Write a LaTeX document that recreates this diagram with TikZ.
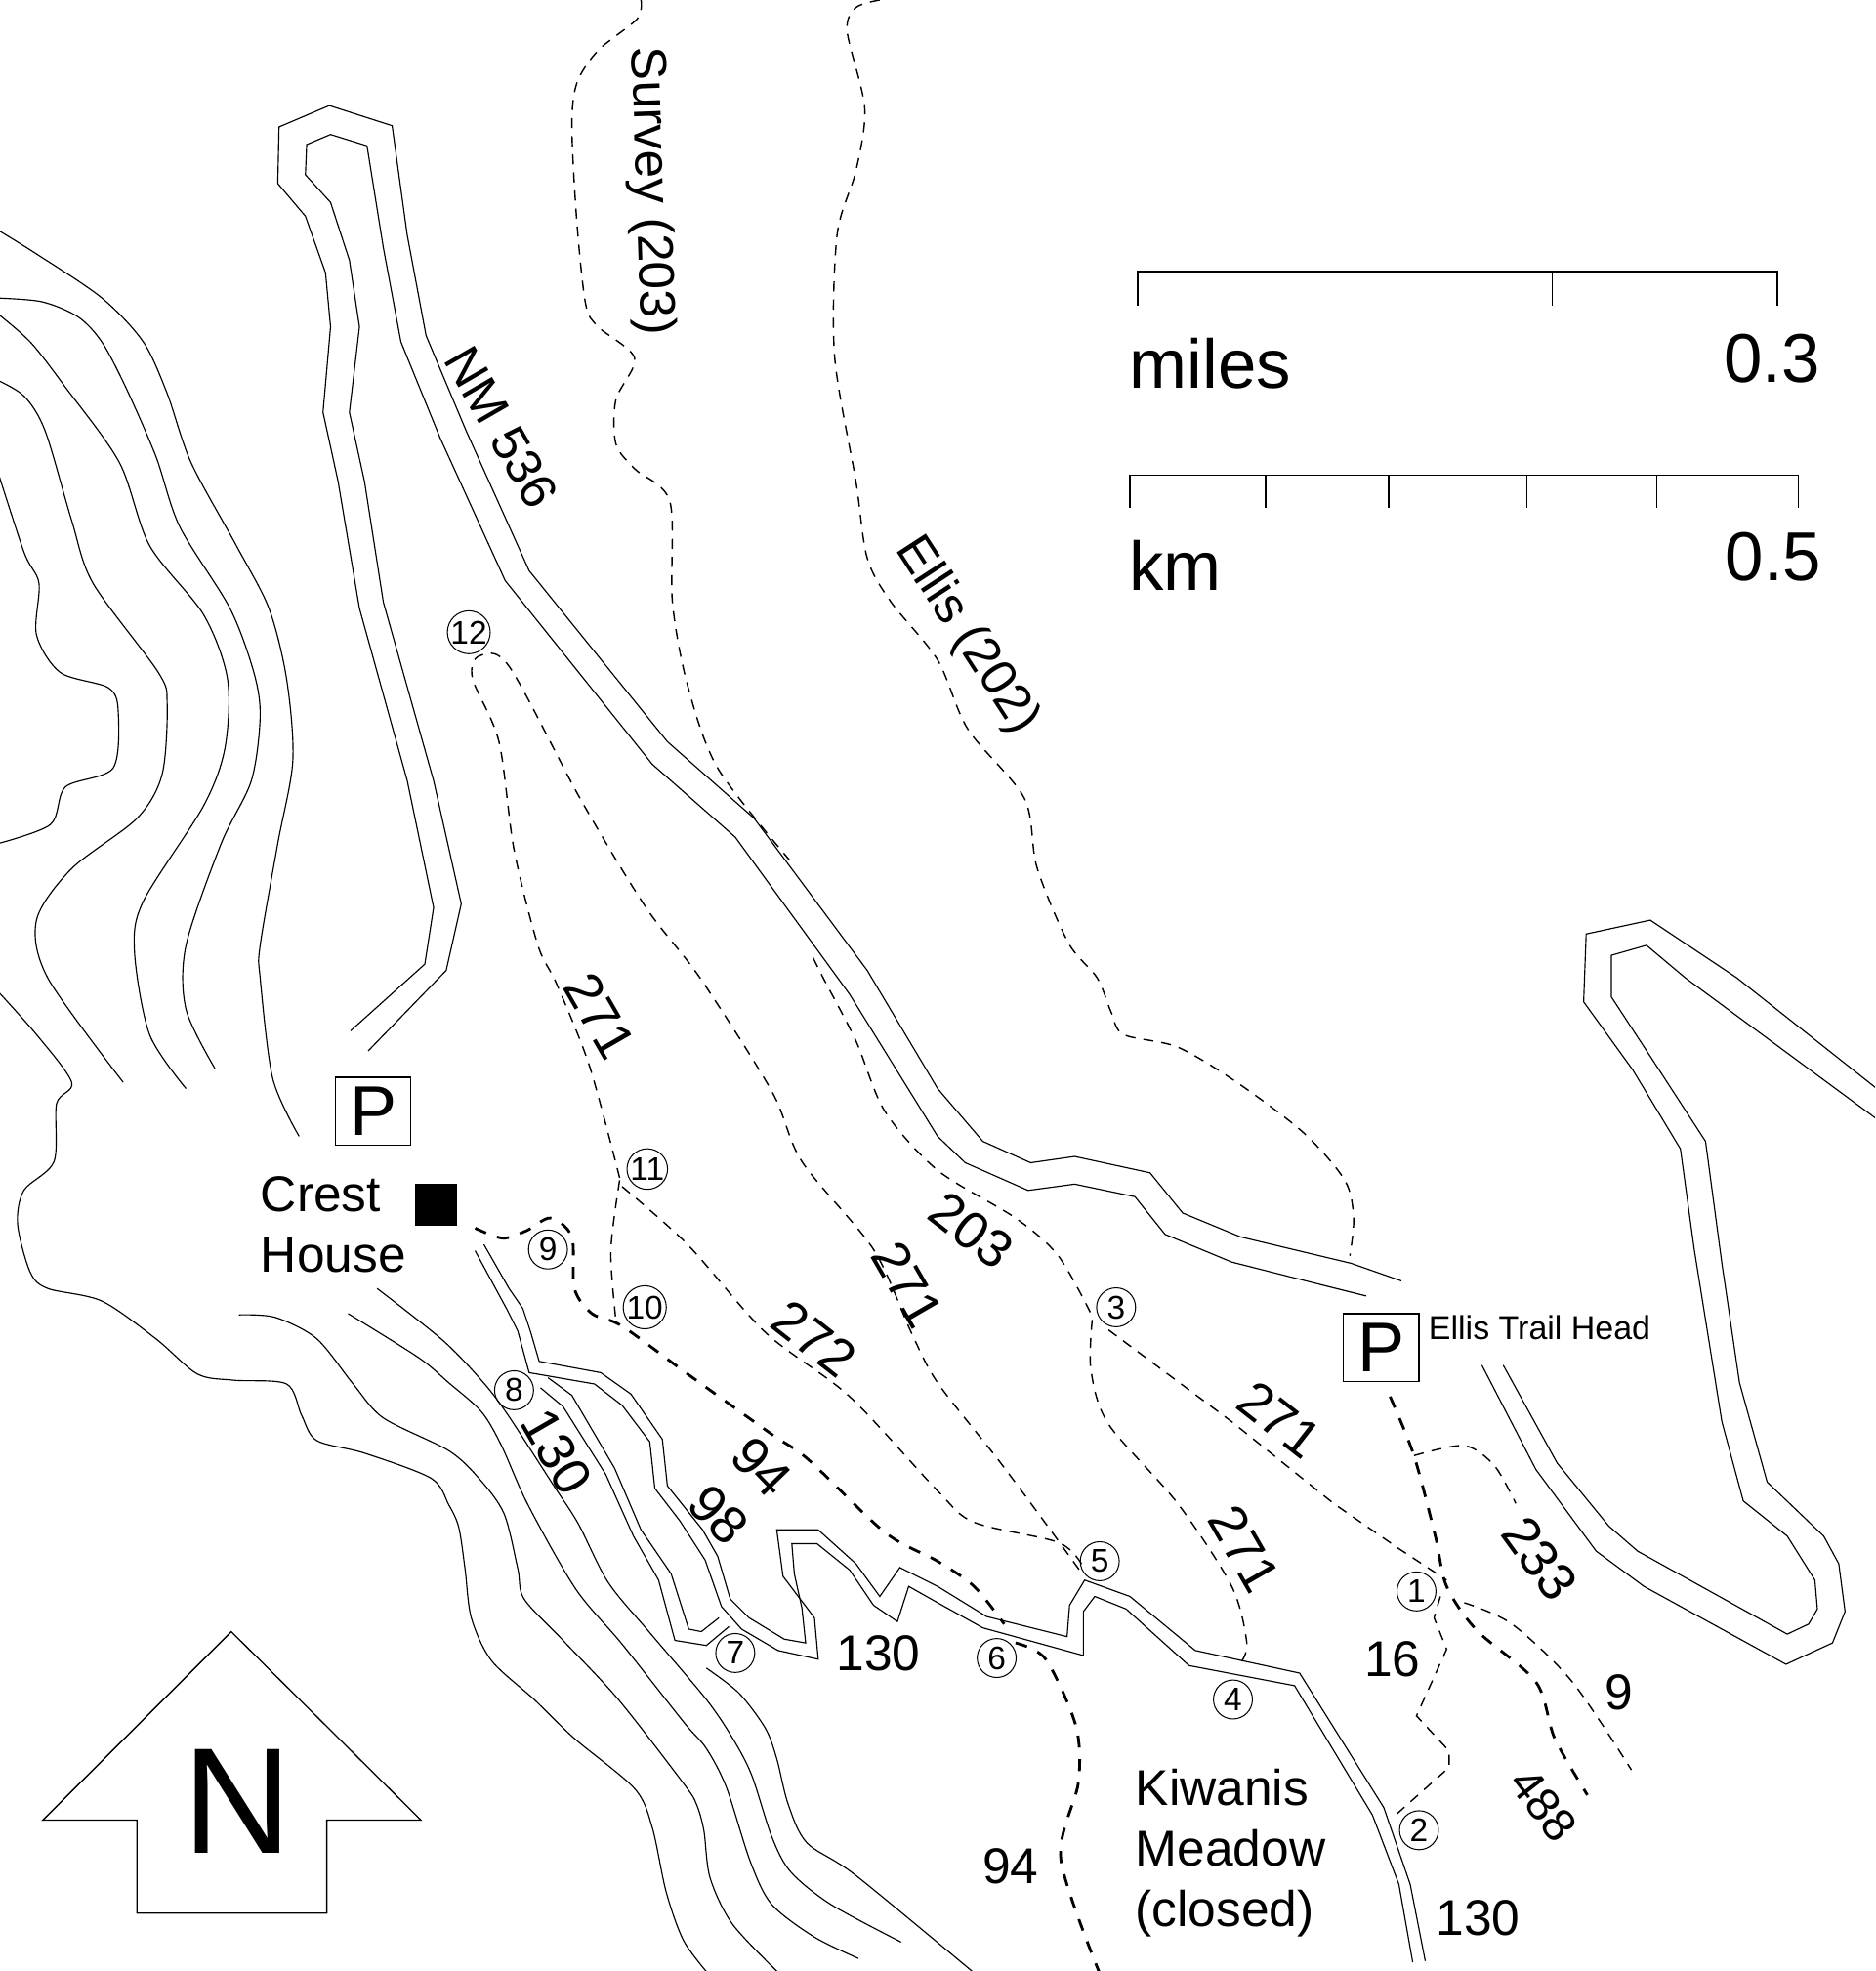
\documentclass[tikz,border=0pt]{standalone}
\usepackage{fontspec}
\setmainfont{Liberation Sans}
\tikzset{
	contour/.style={line width=0.45pt,line join=round},
	road/.style={line width=0.45pt,line join=miter},
	trail/.style={line width=0.55pt,dash pattern=on 4pt off 3.2pt},
	heavytrail/.style={line width=1.1pt,dash pattern=on 4.8pt off 4.6pt},
	stopmark/.style={circle,draw,line width=0.4pt,inner sep=0pt,minimum size=15.5pt,font=\fontsize{13}{13}\selectfont},
	maplabel/.style={inner sep=0pt,font=\fontsize{20}{24}\selectfont},
	pathlabel/.style={inner sep=0pt,font=\fontsize{21}{24}\selectfont},
	biglabel/.style={inner sep=0pt,font=\fontsize{27.5}{30}\selectfont},
	parking/.style={draw,line width=0.5pt,inner sep=0pt,minimum width=30pt,minimum height=27pt,font=\fontsize{28}{28}\selectfont}
}
\begin{document}
\begin{tikzpicture}[x=0.5pt,y=-0.5pt,>=stealth]
	\useasboundingbox (0,0) rectangle (1492,1568);
	\begin{scope}
		\clip (0,0) rectangle (1492,1568);
		% contours
		\draw[contour] plot[smooth] coordinates {(-5,181) (29,202) (81,237) (114,272) (133,313) (152,368) (188,434) (214,484) (228,540) (233,605) (221,671) (207,752) (207,778) (217,858) (238,904)};
		\draw[contour] plot[smooth] coordinates {(-5,237) (33,240) (62,252) (81,272) (100,308) (124,363) (143,419) (183,484) (202,535) (207,570) (200,621) (176,671) (148,752) (148,803) (171,850)};
		\draw[contour] plot[smooth] coordinates {(-5,247) (24,272) (52,308) (95,368) (119,434) (162,489) (181,540) (179,595) (162,641) (114,717) (107,757) (119,823) (148,866)};
		\draw[contour] plot[smooth] coordinates {(-5,301) (19,315) (36,343) (57,414) (74,464) (126,535) (133,560) (129,616) (109,651) (57,691) (29,732) (38,778) (98,861)};
		\draw[contour] plot[smooth] coordinates {(-5,365) (19,439) (31,464) (29,505) (48,535) (86,547) (94,565) (90,611) (52,626) (40,656) (-5,672)};
		\draw[contour] plot[smooth] coordinates {(-5,785) (29,823) (57,861) (45,878) (43,924) (19,947) (14,974) (24,1012) (38,1025) (81,1035) (124,1065) (157,1093) (186,1098) (228,1101) (240,1126) (252,1146) (290,1156) (343,1176) (357,1197) (365,1215) (370,1248) (375,1287) (391,1321) (425,1352) (457,1383) (505,1423) (519,1454) (530,1505) (544,1544) (565,1572)};
		\draw[contour] plot[smooth] coordinates {(190,1046) (219,1048) (252,1065) (281,1101) (305,1128) (357,1154) (381,1176) (401,1204) (412,1248) (417,1272) (448,1305) (492,1352) (544,1419) (554,1435) (560,1456) (565,1494) (583,1531) (622,1572)};
		\draw[contour] plot[smooth] coordinates {(300,1025) (352,1066) (383,1098) (403,1124) (440,1181) (460,1212) (484,1259) (518,1300) (562,1352) (583,1383) (598,1412) (614,1461) (629,1489) (661,1515) (717,1545)};
		\draw[contour] plot[smooth] coordinates {(277,1045) (333,1080) (357,1100) (383,1123) (399,1150) (420,1197) (458,1264) (495,1308) (544,1370) (562,1391) (578,1422) (597,1481) (614,1515) (648,1541) (683,1558)};
		\draw[contour] plot[smooth] coordinates {(562,1327) (588,1347) (609,1375) (618,1399) (627,1435) (642,1466) (681,1492) (778,1572)};
		% roads
		\draw[road] (279,820)--(338,767)--(345,722)--(324,621)--(286,484)--(269,383)--(257,328)--(263,260)--(259,217)--(243,172)--(221,146)--(222,101)--(262,84)--(312,100)--(324,187)--(339,267)--(371,343)--(421,454)--(531,590)--(600,651)--(690,772)--(746,866)--(782,908)--(820,925)--(855,920)--(915,933)--(941,965)--(987,984)--(1075,1005)--(1115,1019);
		\draw[road] (293,836)--(355,772)--(367,719)--(345,621)--(305,479)--(290,383)--(278,328)--(286,260)--(278,207)--(263,161)--(243,139)--(244,115)--(263,107)--(292,116)--(305,197)--(319,272)--(350,348)--(402,462)--(519,608)--(585,666)--(676,791)--(746,904)--(768,925)--(818,947)--(855,942)--(903,952)--(927,982)--(980,1004)--(1051,1022)--(1087,1031);
		\draw[road] (385,990)--(405,1025)--(416,1041)--(422,1059)--(429,1083)--(478,1092)--(502,1109)--(527,1145)--(531,1182)--(559,1217)--(571,1238)--(581,1272)--(596,1287)--(624,1304)--(641,1307)--(638,1279)--(632,1252)--(630,1228)--(650,1228)--(676,1249)--(695,1277)--(714,1290)--(723,1262)--(746,1275)--(782,1295)--(862,1317)--(862,1282)--(871,1270)--(896,1280)--(946,1325)--(1030,1341)--(1092,1444)--(1113,1499)--(1124,1561);
		\draw[road] (378,995)--(403,1041)--(412,1059)--(421,1092)--(473,1101)--(495,1118)--(517,1147)--(521,1184)--(541,1210)--(561,1241)--(574,1278)--(590,1296)--(619,1313)--(651,1320)--(648,1287)--(623,1254)--(618,1217)--(651,1217)--(681,1244)--(700,1270)--(716,1247)--(746,1262)--(785,1286)--(849,1302)--(851,1277)--(863,1257)--(899,1270)--(951,1313)--(1034,1331)--(1101,1438)--(1122,1499)--(1134,1560);
		\draw[road] (436,1096)--(455,1110)--(489,1168)--(510,1217)--(534,1252)--(548,1296)--(558,1298)--(572,1287);
		\draw[road] (430,1104)--(448,1119)--(482,1173)--(504,1222)--(524,1257)--(537,1305)--(562,1309)--(580,1294);
		\draw[road] (1497,869)--(1382,778)--(1313,732)--(1262,743)--(1260,797)--(1299,851)--(1337,914)--(1348,994)--(1370,1131)--(1387,1194)--(1422,1222)--(1444,1257)--(1446,1280)--(1439,1292)--(1422,1300)--(1303,1234)--(1280,1214)--(1239,1164)--(1196,1086);
		\draw[road] (1497,893)--(1341,778)--(1310,752)--(1282,760)--(1282,793)--(1318,848)--(1357,908)--(1370,1005)--(1384,1100)--(1406,1179)--(1451,1222)--(1463,1244)--(1468,1282)--(1458,1307)--(1421,1324)--(1308,1262)--(1270,1234)--(1222,1169)--(1179,1086);
		% trails
		\draw[trail] plot[smooth] coordinates {(510,0) (507,15) (476,40) (459,66) (455,101) (459,177) (466,242) (476,260) (505,285) (490,318) (490,353) (505,373) (533,399) (535,479) (547,545) (571,611) (628,684)};
		\draw[trail] plot[smooth] coordinates {(647,762) (655,778) (681,828) (704,884) (746,931) (808,969) (842,999) (868,1045)};
		\draw[trail] plot[smooth] coordinates {(700,0) (681,6) (674,25) (688,86) (681,136) (666,187) (664,283) (681,383) (690,444) (709,479) (746,525) (770,580) (815,635) (825,690) (850,750) (873,778) (884,805) (894,823) (937,833) (984,861) (1037,901) (1070,939) (1077,969) (1074,999)};
		\draw[trail] plot[smooth] coordinates {(493,937) (469,848) (443,783) (428,752) (409,676) (397,590) (376,540) (381,522) (405,530) (462,636) (514,722) (557,778) (614,868) (638,924) (695,994) (725,1060) (746,1100) (794,1161) (832,1212) (861,1252)};
		\draw[trail] plot[smooth] coordinates {(493,939) (486,995) (490,1050)};
		\draw[trail] plot[smooth] coordinates {(495,944) (547,990) (609,1060) (676,1111) (746,1186) (775,1211) (842,1227) (861,1245)};
		\draw[trail] plot[smooth] coordinates {(869,1050) (868,1090) (882,1133) (937,1196) (980,1262) (992,1307) (987,1323)};
		\draw[trail] (882,1058)--(980,1131)--(1061,1196)--(1113,1232)--(1151,1257);
		\draw[trail] plot[smooth] coordinates {(1125,1158) (1165,1150) (1189,1166) (1206,1196)};
		\draw[trail] plot[smooth] coordinates {(1165,1275) (1203,1292) (1251,1338) (1298,1408)};
		\draw[trail] (1146,1270)--(1141,1287)--(1151,1312)--(1127,1365)--(1153,1393)--(1153,1406)--(1108,1446);
		\draw[heavytrail] plot[smooth] coordinates {(1106,1111) (1125,1158) (1142,1222) (1151,1262) (1175,1297) (1222,1338) (1237,1383) (1263,1428)};
		\draw[heavytrail] plot[smooth] coordinates {(378,977) (400,985) (419,979) (438,969) (455,984) (457,1025) (471,1045) (495,1055) (547,1093) (614,1141) (643,1161) (704,1219) (746,1242) (775,1262) (799,1292)};
		\draw[heavytrail] plot[smooth] coordinates {(808,1307) (832,1320) (856,1373) (858,1418) (844,1479) (875,1570)};
	\end{scope}
	% scale bars
	\draw[line width=0.6pt] (905,243)--(905,216)--(1414,216)--(1414,243);
	\foreach \xa in {1078,1235} \draw[line width=0.6pt] (\xa,216)--(\xa,243);
	\draw[line width=0.6pt] (899,404)--(899,378)--(1431,378)--(1431,404);
	\foreach \xa in {1007,1105,1215,1318} \draw[line width=0.6pt] (\xa,378)--(\xa,404);
	\node[biglabel] (miles) at (963,289) {miles};
	\node[biglabel] (milesend) at (1410,285) {0.3};
	\node[biglabel] (km) at (935,450) {km};
	\node[biglabel] (kmend) at (1411,443) {0.5};
	% north arrow
	\draw[line width=0.5pt] (184,1298)--(335,1448)--(260,1448)--(260,1522)--(109,1522)--(109,1448)--(34,1448)--cycle;
	\node[inner sep=0pt,font=\fontsize{60}{60}\selectfont] (north) at (189,1433) {N};
	% stops
	\node[stopmark] (s1) at (1127,1266) {1};
	\node[stopmark] (s2) at (1129,1456) {2};
	\node[stopmark] (s3) at (888,1040) {3};
	\node[stopmark] (s4) at (981,1352) {4};
	\node[stopmark] (s5) at (875,1242) {5};
	\node[stopmark] (s6) at (793,1319) {6};
	\node[stopmark] (s7) at (585,1315) {7};
	\node[stopmark] (s8) at (409,1106) {8};
	\node[stopmark] (s9) at (436,994) {9};
	\node[stopmark] (s10) at (513,1040) {10};
	\node[stopmark] (s11) at (515,930) {11};
	\node[stopmark] (s12) at (373,503) {12};
	% places
	\node[parking] (crestpark) at (297,884) {P};
	\node[parking] (ellispark) at (1099,1072) {P};
	\fill (330,942) rectangle (364,975);
	\node[maplabel,align=left,anchor=west] (crest) at (207,974) {Crest\\House};
	\node[inner sep=0pt,font=\fontsize{13.2}{15}\selectfont] (ellishead) at (1225,1056) {Ellis Trail Head};
	\node[maplabel,align=left,anchor=west] (meadow) at (903,1474) {Kiwanis\\Meadow\\(closed)};
	% trail and road labels
	\node[maplabel,rotate=-88] (survey) at (517,152) {Survey (203)};
	\node[maplabel,rotate=-60] (nm) at (399,340) {NM 536};
	\node[maplabel,rotate=-57] (ellis) at (769,506) {Ellis (202)};
	\node[pathlabel,rotate=-60] (ta) at (477,808) {271};
	\node[pathlabel,rotate=-38] (tb) at (773,979) {203};
	\node[pathlabel,rotate=-60] (tc) at (722,1022) {271};
	\node[pathlabel,rotate=-38] (td) at (648,1065) {272};
	\node[pathlabel,rotate=-38] (te) at (1018,1129) {271};
	\node[pathlabel,rotate=-60] (tf) at (990,1232) {271};
	\node[pathlabel,rotate=-46] (tg) at (606,1167) {94};
	\node[pathlabel,rotate=-46] (th) at (572,1205) {98};
	\node[pathlabel,rotate=-60] (ti) at (443,1155) {130};
	\node[pathlabel,rotate=-54] (tj) at (1225,1240) {233};
	\node[maplabel,rotate=-52,font=\fontsize{18.5}{20}\selectfont] (tk) at (1228,1436) {488};
	\node[maplabel] (tl) at (699,1315) {130};
	\node[maplabel] (tm) at (1108,1320) {16};
	\node[maplabel] (tn) at (1288,1346) {9};
	\node[maplabel] (tp) at (804,1485) {94};
	\node[maplabel] (tq) at (1176,1526) {130};
\end{tikzpicture}
\end{document}
